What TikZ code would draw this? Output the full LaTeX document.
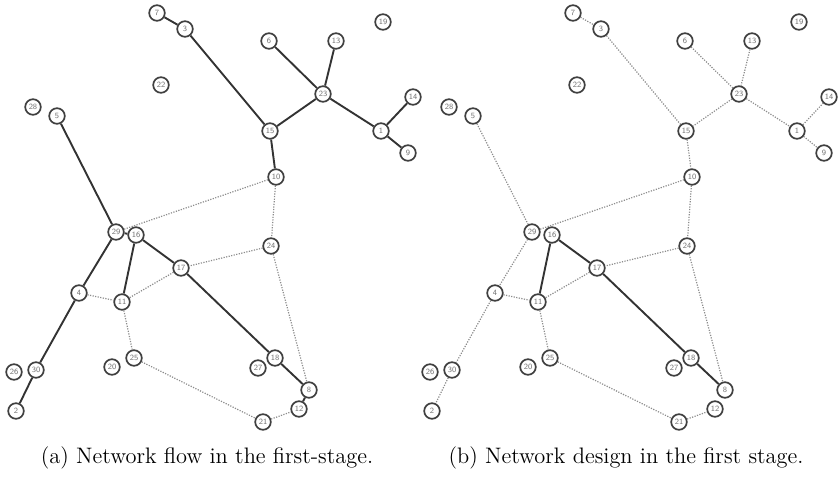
\documentclass[tikz,border=0pt]{standalone}
\usetikzlibrary{backgrounds}
\begin{document}
\begin{tikzpicture}[x=0.5pt,y=-0.5pt,
  nd/.style={circle,draw=black!75,line width=0.85pt,fill=white,minimum size=7.8pt,inner sep=0pt,
    font=\fontsize{4}{4.5}\selectfont\sffamily,text=black!55},
  flow/.style={draw=black!80,line width=0.95pt},
  des/.style={draw=black!45,dash pattern=on 0.6pt off 0.7pt,line width=0.6pt},
  captext/.style={font=\fontsize{11.2}{13}\selectfont,inner sep=0pt,anchor=base}]
\useasboundingbox (0,0) rectangle (839,476);
\newcommand\placenodes[2]{%
  \begin{scope}[xshift=#2]
  \foreach \n/\px/\py in {7/157/13,3/185/29,22/161/85,28/33/107,5/57/116,6/269/41,13/336/41,
    19/383/22,23/323/94,14/413/97,15/270/131,1/381/131,9/408/153,10/276/177,29/116/232,
    16/136/235,24/271/246,17/181/268,4/79/293,11/122/302,26/14/372,30/36/370,20/112/367,
    25/134/358,27/258/368,18/275/358,8/309/390,12/299/409,21/263/422,2/16/411}
    {\node[nd] (#1\n) at (\px,\py) {\n};}
  \end{scope}}
\placenodes{a}{0pt}
\placenodes{b}{208pt}
\begin{scope}[on background layer]
% panel (a)
\foreach \u/\v in {7/3,3/15,6/23,13/23,23/15,23/1,1/14,1/9,15/10,5/29,29/4,4/30,30/2,29/16,16/11,16/17,17/18,18/8,8/12}
  \draw[flow] (a\u) -- (a\v);
\foreach \u/\v in {29/10,10/24,24/17,24/8,17/11,4/11,11/25,25/21,21/12}
  \draw[des] (a\u) -- (a\v);
% panel (b)
\foreach \u/\v in {16/11,16/17,17/18,18/8}
  \draw[flow] (b\u) -- (b\v);
\foreach \u/\v in {7/3,3/15,6/23,13/23,23/15,23/1,1/14,1/9,15/10,5/29,29/4,4/30,30/2,29/10,10/24,24/17,24/8,17/11,4/11,11/25,25/21,21/12}
  \draw[des] (b\u) -- (b\v);
\end{scope}
\node[captext] (capa) at (207,463) {(a) Network flow in the first-stage.};
\node[captext] (capb) at (626,463) {(b) Network design in the first stage.};
\end{tikzpicture}
\end{document}
